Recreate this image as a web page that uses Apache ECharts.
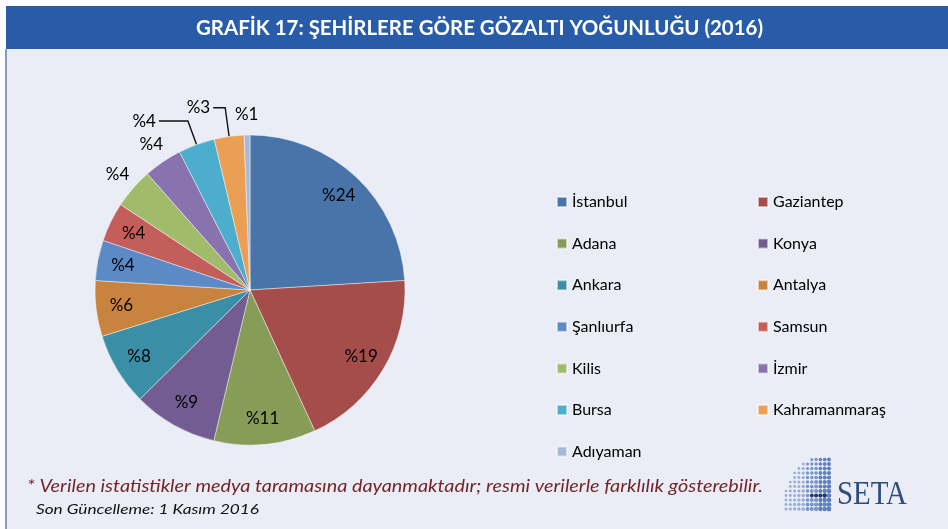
<!DOCTYPE html>
<html><head><meta charset="utf-8">
<script src="https://cdn.jsdelivr.net/npm/echarts@6/dist/echarts.min.js"></script>
<style>html,body{margin:0;padding:0;background:#fff}#c{width:948px;height:529px}</style>
</head><body><div id="c"></div>
<script>
// ---- data ----
const cities = ['İstanbul','Gaziantep','Adana','Konya','Ankara','Antalya','Şanlıurfa','Samsun','Kilis','İzmir','Bursa','Kahramanmaraş','Adıyaman'];
const shares = [24.0, 19.1, 10.6, 8.8, 7.6, 5.8, 4.2, 4.1, 4.2, 4.0, 3.8, 3.1, 0.6];
const sliceColors = ['#4874A9','#A54D4A','#879C57','#735C92','#3A8FA7','#C8843F','#5B8AC6','#C35E5B','#A0BB6A','#8973AE','#4DADCC','#EA9F55','#A7B9DA'];
const legendLeftNames = ['İstanbul','Adana','Ankara','Şanlıurfa','Kilis','Bursa','Adıyaman'];
const legendRightNames = ['Gaziantep','Konya','Antalya','Samsun','İzmir','Kahramanmaraş'];
const innerLabelIdx = [0,1,2,3,4,5,6,7];
const outerRingLabelIdx = [8,9,12];
const leaderLabelIdx = [10,11];
const titleText = 'GRAFİK 17: ŞEHİRLERE GÖRE GÖZALTI YOĞUNLUĞU (2016)';
const noteText = '* Verilen istatistikler medya taramasına dayanmaktadır; resmi verilerle farklılık gösterebilir.';
const updateText = 'Son Güncelleme: 1 Kasım 2016';

// ---- helpers ----
const mctx = document.createElement('canvas').getContext('2d');
function fit(text, font, target){ mctx.font = font; return target / mctx.measureText(text).width; }
const pct = p => '%' + Math.round(p.value);
const labelStyle = {fontSize:17, fontFamily:'Lato', color:'#000', formatter:pct};

const CENTER = [250, 290];
const R = 155;

const titleFont = 'bold 20px Lato';
const noteFont = 'italic 17px Lato';
const updFont = 'italic 14px Lato';
const setaFont = '34px "Liberation Serif"';

// logo dots
const dots = [];
for (let i = 0; i < 12; i++) {
  for (let j = 0; j < 12; j++) {
    const dx = j * 4.3, dy = i * 4.5;
    if ((dx*dx)/(47*47) + (dy*dy)/(54*54) > 1) continue;
    const cx = 829 - dx, cy = 509 - dy;
    const r = Math.max(1.0, 2.4 - 0.09*j - 0.04*i);
    let fill = j < 3 ? '#5F80BA' : (j < 6 ? '#7895C6' : '#97AED6');
    if (i === 3 && j >= 1 && j <= 4) fill = '#22386C';
    dots.push({type:'circle', shape:{cx, cy, r}, style:{fill}, silent:true, z:1});
  }
}

const graphics = [
  {type:'rect', shape:{x:6, y:49, width:942, height:480}, style:{fill:'#EAEDF6'}, silent:true, z:0},
  {type:'rect', shape:{x:5, y:49, width:2, height:480}, style:{fill:'#8E99B7'}, silent:true, z:1},
  {type:'rect', shape:{x:6, y:6, width:942, height:43}, style:{fill:'#295CA8'}, silent:true, z:1},
  {type:'text', x:479.5, y:28.5, scaleX: fit(titleText, titleFont, 567), silent:true, z:2,
    style:{text:titleText, font:titleFont, fill:'#fff', align:'center', verticalAlign:'middle'}},
  {type:'text', x:27, y:487, scaleX: fit(noteText, noteFont, 736), silent:true, z:2,
    style:{text:noteText, font:noteFont, fill:'#73262A', align:'left', verticalAlign:'middle'}},
  {type:'text', x:36, y:509, scaleX: fit(updateText, updFont, 223), silent:true, z:2,
    style:{text:updateText, font:updFont, fill:'#111', align:'left', verticalAlign:'middle'}},
  {type:'text', x:837, y:512, scaleX: fit('SETA', setaFont, 70), silent:true, z:2,
    style:{text:'SETA', font:setaFont, fill:'#2F4C7D', align:'left', verticalAlign:'bottom'}}
].concat(dots);

const legendCommon = {orient:'vertical', padding:0, itemWidth:10, itemHeight:10, itemGap:21.6, icon:'rect',
  selectedMode:false, textStyle:{fontSize:16, fontFamily:'Lato', color:'#000', lineHeight:20}};

const option = {
  animation:false,
  backgroundColor:'#ffffff',
  color: sliceColors,
  graphic: graphics,
  legend: [
    Object.assign({left:556, top:192, data:legendLeftNames}, legendCommon),
    Object.assign({left:757, top:192, data:legendRightNames}, legendCommon)
  ],
  series: [
    {
      type:'pie', center:CENTER, radius:R, startAngle:90, clockwise:true,
      avoidLabelOverlap:false, emphasis:{disabled:true}, silent:true,
      itemStyle:{borderColor:'rgba(255,255,255,0.55)', borderWidth:0.8},
      label:Object.assign({show:false, position:'outside', distanceToLabelLine:3}, labelStyle),
      labelLine:{show:false, length:28, length2:12, smooth:false, lineStyle:{color:'#111', width:1.4}},
      data: cities.map((n, i) => {
        const d = {name:n, value:shares[i]};
        if (leaderLabelIdx.includes(i)) {
          d.label = {show:true, padding:[0,0,12,0]};
          d.labelLine = i === 10 ? {show:true, length:25, length2:29} : {show:true, length:29, length2:12};
        }
        return d;
      })
    },
    {
      type:'pie', center:CENTER, radius:[98, R], startAngle:90, clockwise:true, z:3,
      avoidLabelOverlap:false, emphasis:{disabled:true}, silent:true,
      itemStyle:{color:'rgba(0,0,0,0)'},
      label:Object.assign({position:'inside'}, labelStyle),
      labelLine:{show:false},
      data: shares.map((v, i) => ({value:v, label:{show: innerLabelIdx.includes(i)}}))
    },
    {
      type:'pie', center:CENTER, radius:[154, 191], startAngle:90, clockwise:true, z:3,
      avoidLabelOverlap:false, emphasis:{disabled:true}, silent:true,
      itemStyle:{color:'rgba(0,0,0,0)'},
      label:Object.assign({position:'inside'}, labelStyle),
      labelLine:{show:false},
      data: shares.map((v, i) => ({value:v, label:{show: outerRingLabelIdx.includes(i)}}))
    }
  ]
};
const chart = echarts.init(document.getElementById('c'), null, {renderer:'canvas'});
chart.setOption(option);
</script>
</body></html>
